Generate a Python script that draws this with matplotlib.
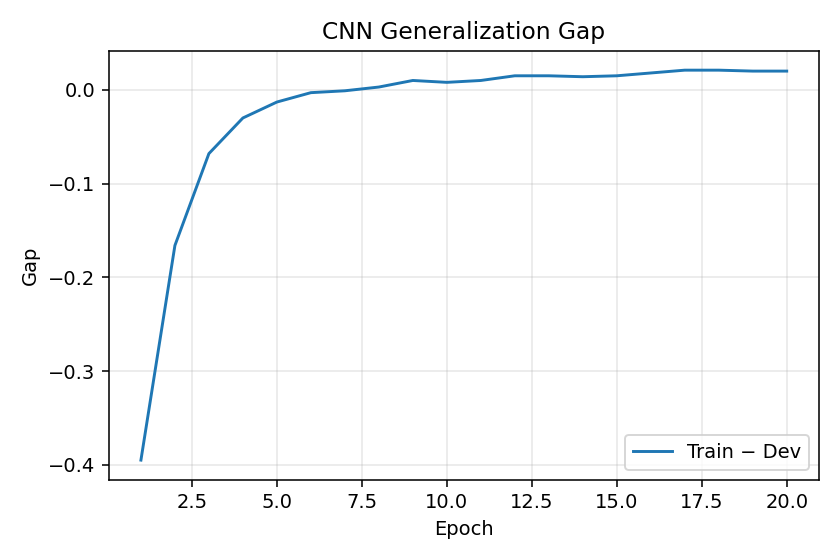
import matplotlib
matplotlib.use("Agg")
import matplotlib.pyplot as plt

epochs = list(range(1, 21))
gap = [-0.395, -0.166, -0.068, -0.030, -0.013, -0.003, -0.001, 0.003, 0.010, 0.008,
       0.010, 0.015, 0.015, 0.014, 0.015, 0.018, 0.021, 0.021, 0.020, 0.020]

fig, ax = plt.subplots(figsize=(6, 4), dpi=140)
ax.plot(epochs, gap, label="Train − Dev")
ax.set_title("CNN Generalization Gap")
ax.set_xlabel("Epoch")
ax.set_ylabel("Gap")
ax.grid(True, alpha=0.3)
ax.legend(loc="lower right")
fig.tight_layout()
fig.savefig("out.png")
